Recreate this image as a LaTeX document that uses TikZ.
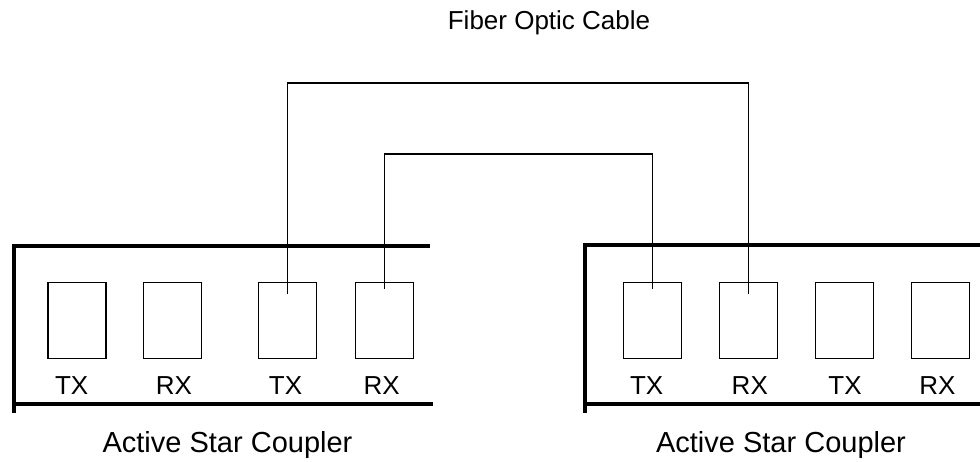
\documentclass[tikz,border=0pt]{standalone}
\usepackage{fontspec}
\setmainfont{Liberation Sans}
\begin{document}
\begin{tikzpicture}[x=1pt,y=-1pt,
  port/.style={draw,line width=1.3pt,minimum width=58pt,minimum height=76pt,inner sep=0pt},
  frame/.style={line width=4pt},
  cable/.style={line width=1.3pt},
  lbl/.style={font=\fontsize{26}{26}\selectfont,anchor=base,inner sep=0pt},
  title/.style={font=\fontsize{29}{29}\selectfont,anchor=base,inner sep=0pt}]
\useasboundingbox (0,0) rectangle (980,462);
% left coupler frame
\draw[frame] (12,246) -- (430,246);
\draw[frame] (14,244) -- (14,413);
\draw[frame] (14,403.5) -- (433,403.5);
% right coupler frame
\draw[frame] (583,245) -- (980,245);
\draw[frame] (585,243) -- (585,413);
\draw[frame] (585,404) -- (980,404);
% left ports
\node[port] (l1) at (77,320.3) {};
\node[port] (l2) at (172.8,320.3) {};
\node[port] (l3) at (287.8,320.3) {};
\node[port] (l4) at (384.2,320.3) {};
% right ports
\node[port] (r1) at (652.8,320.3) {};
\node[port] (r2) at (748.8,320.3) {};
\node[port] (r3) at (844.8,320.3) {};
\node[port] (r4) at (940.8,320.3) {};
% port labels
\node[lbl] (tl1) at (71.7,394) {TX};
\node[lbl] (tl2) at (174,394) {RX};
\node[lbl] (tl3) at (285.5,394) {TX};
\node[lbl] (tl4) at (381.7,394) {RX};
\node[lbl] (tr1) at (646.7,394) {TX};
\node[lbl] (tr2) at (749.8,394) {RX};
\node[lbl] (tr3) at (845,394) {TX};
\node[lbl] (tr4) at (937.5,394) {RX};
% titles
\node[title] (ac1) at (227.5,452.7) {Active Star Coupler};
\node[title] (ac2) at (781,452.7) {Active Star Coupler};
\node[lbl] (foc) at (549,30) {Fiber Optic Cable};
% cables
\coordinate (ca) at ([yshift=-12pt]l3.north);
\coordinate (cb) at ([yshift=-12pt]r2.north);
\coordinate (cc) at ([yshift=-7pt]l4.north);
\coordinate (cd) at ([yshift=-7pt]r1.north);
\coordinate (topa) at (0,83);
\coordinate (topb) at (0,154);
\draw[cable] (ca) -- (ca |- topa) -- (cb |- topa) -- (cb);
\draw[cable] (cc) -- (cc |- topb) -- (cd |- topb) -- (cd);
\end{tikzpicture}
\end{document}
